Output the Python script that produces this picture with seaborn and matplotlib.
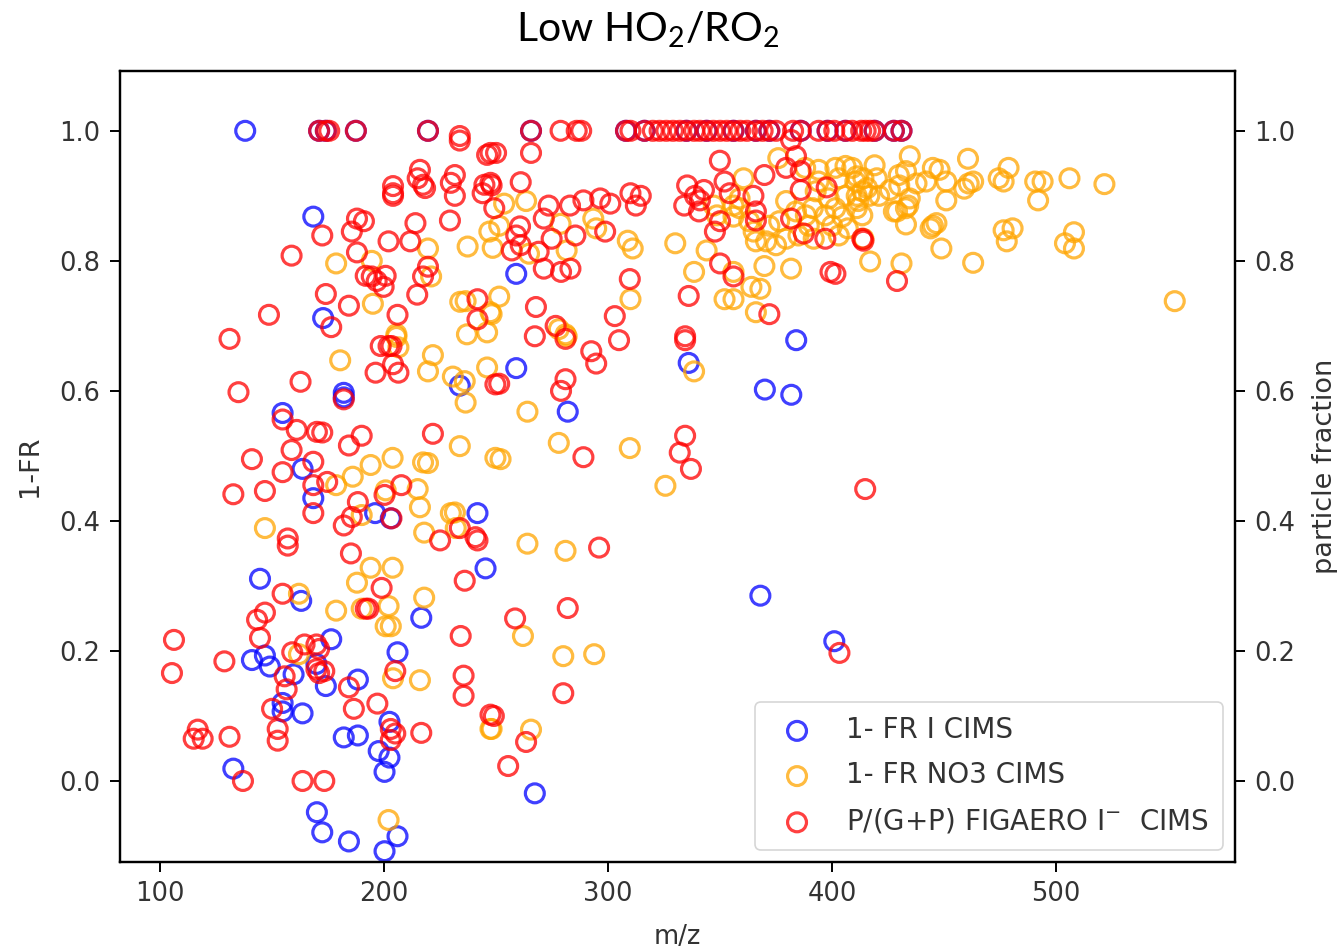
import matplotlib
matplotlib.use("Agg")
import matplotlib.pyplot as plt
from matplotlib.font_manager import FontProperties
import seaborn as sns
import pandas as pd

# ---- 1-FR from the iodide CIMS ----
mz_i = [138, 168.4, 172.8, 182, 182, 154.7, 163.6, 168.4, 196, 203, 241.7, 245.3,
        233.8, 259, 259, 282, 336, 384, 370, 381.8, 368, 401, 144.6, 163, 216.6,
        176.4, 206, 141, 146.8, 149, 159.6, 169.8, 174, 188.3, 154.7, 154.7, 163.6,
        202.4, 182, 188.3, 197.6, 202.4, 200.2, 132.7, 170, 172.4, 184.3, 200.2, 206,
        267.3,
        171, 174, 187.4, 219.6, 265.6, 308, 316.3, 335, 344, 356, 366, 372, 386, 398,
        406, 419, 427.6, 431]
fr_i = [1.0, 0.868, 0.712, 0.597, 0.59, 0.566, 0.48, 0.435, 0.412, 0.404, 0.412, 0.327,
        0.608, 0.78, 0.635, 0.568, 0.643, 0.678, 0.602, 0.594, 0.285, 0.215, 0.311, 0.277, 0.251,
        0.218, 0.198, 0.186, 0.193, 0.176, 0.164, 0.18, 0.146, 0.156, 0.12, 0.107, 0.104,
        0.091, 0.067, 0.07, 0.046, 0.036, 0.014, 0.019, -0.048, -0.079, -0.093, -0.108, -0.085,
        -0.019,
        1.0, 1.0, 1.0, 1.0, 1.0, 1.0, 1.0, 1.0, 1.0, 1.0, 1.0, 1.0, 1.0, 1.0,
        1.0, 1.0, 1.0, 1.0]

# ---- 1-FR from the nitrate CIMS ----
mz_no3 = [178.6, 194.5, 219.6, 221, 195, 237.3, 247, 248.5, 234, 236.4, 247.5, 205.5, 237, 246,
          253.6, 263.4, 251.4, 278.8, 281.5, 293.4, 294.7, 308.8, 311, 264.7, 251.4, 248, 310,
          278, 281.5, 330, 338.4, 344, 356, 352, 356, 364, 368, 366, 369.8, 381.7, 376, 360.5,
          388, 394, 401.5, 406, 411,
          358.7, 356, 358.7, 347.2, 348.6, 356, 363, 365, 366, 372, 376.4, 370.6, 375, 379.5,
          383.9, 388.3, 391.4, 379.5, 385, 391.8, 394, 392.7, 398.5, 403, 406, 409, 410.4,
          411.7, 413.5, 401.5, 404.6, 400, 407, 403, 389.6, 397,
          434.7, 460.7, 419, 478.8, 474.4, 476.6, 490.7, 494, 506, 521.6, 492, 451, 461, 463,
          459, 445, 448, 451, 442, 437.7, 429.8, 433, 430, 434.7, 433, 429, 433, 445, 446.6,
          444, 448.8, 476.6, 480.6, 478, 504, 508, 508, 463, 417, 431, 553, 414, 411, 421,
          425.8, 415.7, 420, 414, 411, 413.5, 416.6, 427.6, 434,
          205.5, 206.4, 180.4, 221.8, 219.6, 246, 230.7, 236, 236.4, 233.8, 249.7, 203.8, 194,
          186, 178.6, 219.6, 217.4, 215, 216, 200.7, 231.6, 229.8, 232, 146.8, 217.9, 190, 194,
          203.8, 187.9, 217.9, 162,
          178.6, 190, 202, 200.7, 203, 204, 216, 162, 247.5, 202,
          281, 264, 252, 278, 309.7, 325.6, 338.4, 264, 281,
          262, 280, 293.8, 265.6, 248]
fr_no3 = [0.796, 0.8, 0.819, 0.776, 0.734, 0.822, 0.845, 0.82, 0.737, 0.738, 0.721, 0.687, 0.687, 0.69,
          0.888, 0.892, 0.854, 0.857, 0.816, 0.865, 0.85, 0.831, 0.819, 0.811, 0.745, 0.718, 0.741,
          0.695, 0.684, 0.827, 0.783, 0.816, 0.783, 0.741, 0.741, 0.76, 0.757, 0.721, 0.792, 0.788, 0.958, 0.927,
          0.943, 0.94, 0.943, 0.946, 0.93,
          0.896, 0.885, 0.881, 0.885, 0.87, 0.868, 0.861, 0.845, 0.83, 0.854, 0.861, 0.83, 0.824, 0.892,
          0.876, 0.87, 0.881, 0.834, 0.839, 0.834, 0.922, 0.907, 0.896, 0.927, 0.9, 0.943, 0.922,
          0.892, 0.87, 0.881, 0.868, 0.854, 0.85, 0.839, 0.854, 0.87,
          0.961, 0.957, 0.947, 0.943, 0.927, 0.922, 0.922, 0.922, 0.927, 0.918, 0.893, 0.893, 0.919, 0.922,
          0.911, 0.943, 0.94, 0.922, 0.922, 0.919, 0.932, 0.938, 0.916, 0.896, 0.881, 0.876, 0.856, 0.854, 0.858,
          0.85, 0.819, 0.847, 0.85, 0.83, 0.827, 0.844, 0.819, 0.797, 0.799, 0.796, 0.738, 0.834, 0.9, 0.9,
          0.909, 0.912, 0.927, 0.927, 0.881, 0.907, 0.9, 0.876, 0.885,
          0.683, 0.667, 0.647, 0.655, 0.63, 0.636, 0.622, 0.615, 0.582, 0.515, 0.497, 0.497, 0.486,
          0.468, 0.455, 0.489, 0.49, 0.449, 0.421, 0.447, 0.413, 0.412, 0.389, 0.389, 0.382, 0.409, 0.328,
          0.328, 0.305, 0.282, 0.288,
          0.262, 0.265, 0.269, 0.238, 0.238, 0.158, 0.155, 0.195, 0.08, -0.06,
          0.687, 0.568, 0.495, 0.52, 0.512, 0.454, 0.63, 0.365, 0.354,
          0.223, 0.192, 0.195, 0.079, 0.08]

# ---- particle fraction from FIGAERO iodide CIMS ----
mz_fig = [171, 174, 175.5, 187.4, 219.6, 265.6, 278.8, 286, 288, 308, 310, 316.3, 320, 323, 326,
          329, 332, 335, 338.4, 341, 344, 347, 350, 353, 356, 359, 362, 366, 369, 372, 375, 382.6,
          386, 394, 398, 401, 406, 409, 413, 415, 417, 419, 427.6, 431,
          233.8, 233.8, 247.5, 246, 216, 215, 217.4, 218.3, 231.6, 229.8, 231.6, 244.8, 244, 247.5,
          249.2, 204, 204, 204, 214, 229.4, 187.9, 191, 185.6, 172.4, 202, 211.7, 158.7, 187.9,
          219.6, 217.4, 191.8, 196.7, 200.7, 199.8, 194.5, 174, 184.3, 214.8, 206, 241.7, 241.7,
          148.6, 176.4, 131,
          250, 265.6, 248, 261, 273.5, 271.3, 283, 289, 296.5, 301, 310, 314.6, 312.4, 260.7, 259,
          257, 261, 274.8, 285.4, 298.7, 269, 271.3, 279, 283.2, 309.7, 267.8, 303, 276.6, 335.3,
          338.8, 342.8, 341, 334, 340.6, 349.9, 352, 354.3, 364.9, 369.8, 366, 366, 350, 347.7,
          379.5, 383.9, 381.7, 386, 386, 397.6, 381.7, 387.4, 397, 350, 356, 399.3, 401.5, 413.5,
          336, 372, 334.4, 414, 429,
          135, 162.7, 198.5, 202, 203.3, 196.2, 204, 206.4, 249.7, 182, 154.7, 161, 170, 172.4,
          184.3, 190, 221.8, 158.7, 141, 168.4, 154.7, 168.4, 174.6, 132.7, 146.8, 207.7, 200.2,
          188.3, 168.4, 182, 185.6, 203.3, 225, 233.8, 240.8, 241.7, 157, 157, 185.2, 236, 198.9,
          154.7,
          143.3, 146.8, 191.8, 193, 144.6, 106.2, 105.3, 128.7, 159, 164.5, 169.8, 171, 173.3,
          169.8, 155.6, 156.5, 171, 205, 234.2, 235.5, 235.5, 247.5, 184.3, 186.5, 197, 150,
          152.5, 152.5, 116.8, 115, 119, 131, 203, 205, 203, 216.6, 137, 163.6, 173.3,
          282, 258.5, 280, 249, 263.4, 255.4, 403.3,
          267.3, 281, 292.5, 294.7, 304.9, 334.4, 251.4, 281, 279, 289, 334.4, 332, 337, 296, 414.8]
pf_fig = [1.0] * 44 + [
          0.992, 0.985, 0.966, 0.963, 0.94, 0.927, 0.917, 0.912, 0.932, 0.92, 0.9, 0.917, 0.904, 0.92,
          0.881, 0.915, 0.904, 0.9, 0.858, 0.862, 0.865, 0.861, 0.845, 0.839, 0.83, 0.83, 0.808, 0.813,
          0.791, 0.776, 0.777, 0.769, 0.777, 0.76, 0.776, 0.749, 0.731, 0.748, 0.717, 0.741, 0.71,
          0.717, 0.698, 0.68,
          0.966, 0.966, 0.916, 0.921, 0.885, 0.865, 0.885, 0.893, 0.896, 0.888, 0.904, 0.9, 0.885, 0.853, 0.839,
          0.816, 0.824, 0.834, 0.839, 0.845, 0.814, 0.788, 0.783, 0.788, 0.772, 0.729, 0.715, 0.7, 0.916,
          0.9, 0.909, 0.893, 0.885, 0.876, 0.954, 0.922, 0.904, 0.9, 0.932, 0.876, 0.862, 0.861, 0.845,
          0.943, 0.961, 0.986, 0.938, 0.909, 0.913, 0.865, 0.842, 0.834, 0.796, 0.776, 0.783, 0.78, 0.834,
          0.746, 0.718, 0.684, 0.831, 0.769,
          0.598, 0.614, 0.669, 0.669, 0.669, 0.628, 0.641, 0.628, 0.61, 0.587, 0.556, 0.54, 0.537, 0.536,
          0.516, 0.531, 0.534, 0.509, 0.495, 0.491, 0.475, 0.455, 0.46, 0.441, 0.446, 0.455, 0.44,
          0.429, 0.412, 0.393, 0.406, 0.404, 0.37, 0.389, 0.375, 0.37, 0.373, 0.362, 0.35, 0.308, 0.297,
          0.288,
          0.248, 0.259, 0.265, 0.265, 0.22, 0.217, 0.166, 0.184, 0.198, 0.21, 0.21, 0.203, 0.169,
          0.172, 0.161, 0.141, 0.166, 0.169, 0.223, 0.162, 0.131, 0.102, 0.144, 0.111, 0.119, 0.111,
          0.08, 0.062, 0.079, 0.065, 0.065, 0.068, 0.08, 0.073, 0.063, 0.074, 0.0, 0.0, 0.0,
          0.266, 0.25, 0.135, 0.1, 0.06, 0.023, 0.197,
          0.684, 0.68, 0.661, 0.642, 0.678, 0.678, 0.611, 0.618, 0.6, 0.498, 0.531, 0.505, 0.48, 0.359, 0.449]

labels = ["1- FR I CIMS", "1- FR NO3 CIMS", "P/(G+P) FIGAERO I$^{-}$  CIMS"]
colors = ["blue", "orange", "red"]
x_ticks = [100, 200, 300, 400, 500]
y_ticks = [0.0, 0.2, 0.4, 0.6, 0.8, 1.0]

sns.set_style("ticks")
plt.rcParams["font.family"] = ["DejaVu Sans"]
plt.rcParams["mathtext.fontset"] = "custom"
plt.rcParams["mathtext.rm"] = "Lato"
plt.rcParams["mathtext.it"] = "Lato:italic"
plt.rcParams["mathtext.bf"] = "Lato:bold"

fig = plt.figure(figsize=(13.39, 9.51), dpi=100)
ax = fig.add_axes([120 / 1339, 1 - 862 / 951, (1235 - 120) / 1339, (862 - 71) / 951])

frames = [
    pd.DataFrame({"mz": mz_i, "val": fr_i}),
    pd.DataFrame({"mz": mz_no3, "val": fr_no3}),
    pd.DataFrame({"mz": mz_fig, "val": pf_fig}),
]
for df, col, lab in zip(frames, colors, labels):
    sns.scatterplot(data=df, x="mz", y="val", ax=ax, marker="o", s=185,
                    facecolor="none", edgecolor=col, color=col, linewidth=2.3,
                    alpha=0.75, label=lab)

xlim = (82.1, 579.9)
ylim = (-0.1246, 1.092)
ax.set_xlim(*xlim)
ax.set_ylim(*ylim)
ax.set_xticks(x_ticks)
ax.set_yticks(y_ticks)
ax.set_xticklabels([str(v) for v in x_ticks])
ax.set_yticklabels([f"{v:.1f}" for v in y_ticks])
tick_color = "#333333"
fs = 18.5
ax.tick_params(axis="both", labelsize=fs, colors="black", labelcolor=tick_color,
               length=7, width=1.4, pad=7)
ax.set_xlabel("m/z", fontsize=fs, color=tick_color, labelpad=12)
ax.set_ylabel("1-FR", fontsize=fs + 1, color=tick_color, labelpad=12)
for sp in ax.spines.values():
    sp.set_visible(True)
    sp.set_color("black")
    sp.set_linewidth(1.6)

# right-hand axis sharing the same scale
ax2 = ax.twinx()
ax2.set_ylim(*ylim)
ax2.set_yticks(y_ticks)
ax2.set_yticklabels([f"{v:.1f}" for v in y_ticks])
ax2.tick_params(axis="y", labelsize=fs, colors="black", labelcolor=tick_color,
                length=7, width=1.4, pad=7)
ax2.set_ylabel("particle fraction", fontsize=fs + 1, color=tick_color, labelpad=12)
for sp in ax2.spines.values():
    sp.set_color("black")
    sp.set_linewidth(1.6)

leg_font = FontProperties(family="DejaVu Sans", size=20, math_fontfamily="dejavusans")
leg = ax.legend(loc="lower right", prop=leg_font, frameon=True, borderpad=0.5,
                labelspacing=0.62, handletextpad=0.75, borderaxespad=0.45)
for t in leg.get_texts():
    t.set_color(tick_color)
leg.get_frame().set_edgecolor("#cccccc")
leg.get_frame().set_linewidth(1.2)

fig.text(648 / 1339, 1 - 30 / 951, "Low HO$_2$/RO$_2$", ha="center", va="center",
         fontsize=29.5, family="Lato", math_fontfamily="custom", color="black")

fig.savefig("out.png", dpi=100)
